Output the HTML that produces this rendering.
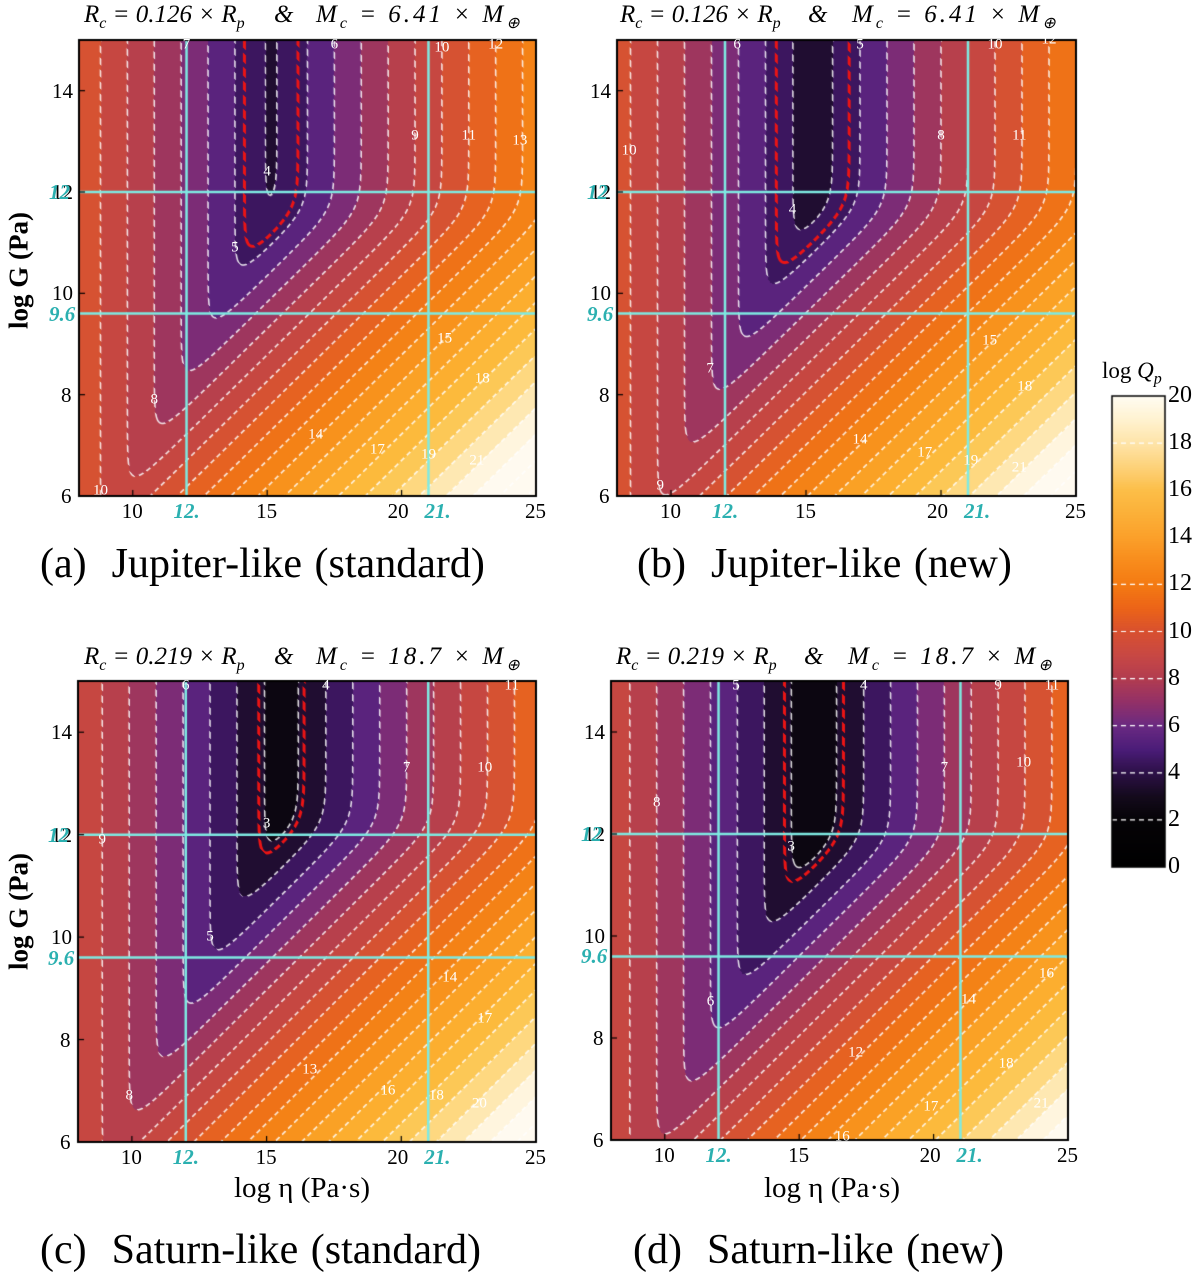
<!DOCTYPE html>
<html><head><meta charset="utf-8">
<style>
html,body{margin:0;padding:0;background:#fff;}
body{width:1200px;height:1275px;position:relative;overflow:hidden;font-family:"Liberation Serif",serif;}
.abs{position:absolute;}
canvas{position:absolute;left:0;top:0;}
.ttl{position:absolute;font-style:italic;font-size:25px;white-space:pre;color:#000;}
.ttl sub{font-size:16px;}
.m{letter-spacing:3px;}
.cap{position:absolute;font-size:42px;white-space:pre;color:#000;word-spacing:2px;}
.tick{position:absolute;font-size:21px;color:#000;}
.cy{position:absolute;font-size:21px;color:#2bb0b0;font-style:italic;font-weight:bold;}
.ylab{position:absolute;font-size:27px;font-weight:bold;transform:rotate(-90deg);transform-origin:center;white-space:nowrap;}
.xlab{position:absolute;font-size:29px;white-space:nowrap;}
.cl{position:absolute;font-size:15px;color:#fff;transform:translate(-50%,-50%);}
</style></head>
<body>
<canvas id="cv" width="1200" height="1275"></canvas>
<div id="overlay"></div>

<div>
<div class="ttl" style="left:84px;top:1px">R<sub>c</sub> = 0.126 × R<sub>p</sub></div>
<div class="ttl" style="left:274px;top:1px">&amp;</div>
<div class="ttl m" style="left:316px;top:1px">M<sub>c</sub> = 6.41 × M<sub>⊕</sub></div>
</div>
<div>
<div class="ttl" style="left:620px;top:1px">R<sub>c</sub> = 0.126 × R<sub>p</sub></div>
<div class="ttl" style="left:808px;top:1px">&amp;</div>
<div class="ttl m" style="left:852px;top:1px">M<sub>c</sub> = 6.41 × M<sub>⊕</sub></div>
</div>
<div>
<div class="ttl" style="left:84px;top:643px">R<sub>c</sub> = 0.219 × R<sub>p</sub></div>
<div class="ttl" style="left:274px;top:643px">&amp;</div>
<div class="ttl m" style="left:316px;top:643px">M<sub>c</sub> = 18.7 × M<sub>⊕</sub></div>
</div>
<div>
<div class="ttl" style="left:616px;top:643px">R<sub>c</sub> = 0.219 × R<sub>p</sub></div>
<div class="ttl" style="left:804px;top:643px">&amp;</div>
<div class="ttl m" style="left:848px;top:643px">M<sub>c</sub> = 18.7 × M<sub>⊕</sub></div>
</div>

<div class="cap" style="left:40px;top:540px">(a)  Jupiter-like (standard)</div>
<div class="cap" style="left:637px;top:540px">(b)  Jupiter-like (new)</div>
<div class="cap" style="left:40px;top:1226px">(c)  Saturn-like (standard)</div>
<div class="cap" style="left:633px;top:1226px">(d)  Saturn-like (new)</div>

<div class="ylab" style="left:-46px;top:255px;width:130px;text-align:center">log G (Pa)</div>
<div class="ylab" style="left:-46px;top:896px;width:130px;text-align:center">log G (Pa)</div>
<div class="xlab" style="left:234px;top:1172px">log η (Pa·s)</div>
<div class="xlab" style="left:764px;top:1172px">log η (Pa·s)</div>

<div class="abs" style="left:1102px;top:358px;font-size:23px">log <i>Q<sub style="font-size:16px">p</sub></i></div>

<script>
// ---- data ----
const cmapLevels = [0,2,3,4,5,6,7,8,9,10,11,12,13,14,15,16,17,18,19,20,21,22];
const cmapColors = ['#000000','#050306','#140a1c','#2c1046','#4b1c78','#6a2a82','#8e2f6a','#ae3c52','#c04446','#cc4a3c','#e05a28','#ec6a1a','#f27a14','#f68a18','#f99a20','#fba82a','#fcb434','#fcc044','#fdd068','#fee098','#fff0cc','#fffaf0'];
const cbLevels = [0,2,3,4,5,6,7,8,9,10,11,12,13,14,15,16,17,18,19,20];
const cbColors = ['#000000','#050306','#140a1c','#2c1046','#4b1c78','#6a2a82','#923068','#b23c50','#c84844','#d85030','#ec6418','#f47a12','#f88c1c','#fba02a','#fbb038','#fcbe48','#fdd27a','#fee4a8','#fff2d0','#fffcf2'];
const panelIds = ['a','b','c','d'];
const leftIntercept = [18.8, 18.5, 17.9, 17.7];
const rightOffset = [11.5, 12.0, 13.2, 13.4];
const kneeG = [11.65, 11.7, 12.2, 11.9];
const redLevel = [4.65, 4.6, 3.2, 3.25];
const xTicks = [10, 15, 20, 25];
const yTicks = [6, 8, 10, 12, 14];
const cyanEta = [12, 21];
const cyanG = [12, 9.6];
const cbTicks = [0,2,4,6,8,10,12,14,16,18,20];
const labelsA = [["4",15,12.4],["5",13.8,10.9],["8",10.8,7.9],["10",8.8,6.1],["9",20.5,13.1],["11",22.5,13.1],["13",24.4,13],["10",21.5,14.85],["12",23.5,14.9],["6",17.5,14.9],["7",12,14.9],["15",21.6,9.1],["18",23,8.3],["14",16.8,7.2],["17",19.1,6.9],["19",21,6.8],["21",22.8,6.7]];
const labelsB = [["4",14.5,11.65],["10",8.45,12.8],["7",11.45,8.5],["9",9.6,6.2],["6",12.45,14.9],["5",17,14.9],["8",20,13.1],["10",22,14.9],["11",22.9,13.1],["12",24,15],["15",21.8,9.05],["18",23.1,8.15],["14",17,7.1],["17",19.4,6.85],["19",21.1,6.7],["21",22.9,6.55]];
const labelsC = [["3",15,12.2],["5",12.9,10],["8",9.9,6.9],["9",8.9,11.9],["6",12,14.9],["4",17.2,14.9],["7",20.2,13.3],["10",23.1,13.3],["11",24.1,14.9],["14",21.8,9.2],["17",23.1,8.4],["13",16.6,7.4],["16",19.5,7.0],["18",21.3,6.9],["20",22.9,6.75]];
const labelsD = [["3",14.7,11.75],["8",9.7,12.6],["6",11.7,8.7],["5",12.65,14.9],["4",17.4,14.9],["9",22.4,14.9],["11",24.4,14.9],["7",20.4,13.3],["10",23.35,13.4],["16",24.2,9.25],["14",21.3,8.75],["12",17.1,7.7],["17",19.9,6.65],["18",22.7,7.5],["21",24,6.7],["16",16.6,6.05]];
const panelLabels = [labelsA, labelsB, labelsC, labelsD];

// ---- layout ----
const boxes = [
  {x0:79,x1:536,y0:40,y1:496},
  {x0:617,x1:1076,y0:40,y1:496},
  {x0:78,x1:536,y0:681,y1:1142},
  {x0:611,x1:1068,y0:681,y1:1140}
];
const ETA0=8, ETA1=25, G0=6, G1=15;
function sx(b,eta){return b.x0+(eta-ETA0)/(ETA1-ETA0)*(b.x1-b.x0);}
function sy(b,g){return b.y1-(g-G0)/(G1-G0)*(b.y1-b.y0);}
function hex(c){return [parseInt(c.substr(1,2),16),parseInt(c.substr(3,2),16),parseInt(c.substr(5,2),16)];}
const cmapRGB = cmapColors.map(hex);
const cbRGB = cbColors.map(hex);
function interp(levels,rgb,v){
  if(v<=levels[0]) return rgb[0];
  for(let i=1;i<levels.length;i++){
    if(v<=levels[i]){const t=(v-levels[i-1])/(levels[i]-levels[i-1]);const a=rgb[i-1],b=rgb[i];return [a[0]+(b[0]-a[0])*t,a[1]+(b[1]-a[1])*t,a[2]+(b[2]-a[2])*t];}
  }
  return rgb[rgb.length-1];
}
function cmap(v){return interp(cmapLevels,cmapRGB,v);}
function field(p,eta,g){
  const L=leftIntercept[p]-eta;
  const w=0.5;
  const sp=w*Math.log10(1+Math.pow(10,(kneeG[p]-g)/w));
  const R=eta-rightOffset[p]+1.92*sp;
  const m=Math.max(L,R);
  return m+Math.log10(Math.pow(10,L-m)+Math.pow(10,R-m));
}

const cv=document.getElementById('cv');
const ctx=cv.getContext('2d');
const ov=document.getElementById('overlay');

panelIds.forEach((id,p)=>{
  const b=boxes[p];
  const W=b.x1-b.x0, H=b.y1-b.y0;
  const img=ctx.createImageData(W,H);
  const dEta=(ETA1-ETA0)/W, dG=(G1-G0)/H;
  for(let j=0;j<H;j++){
    const g=G1-(j+0.5)*dG;
    for(let i=0;i<W;i++){
      const eta=ETA0+(i+0.5)*dEta;
      const q=field(p,eta,g);
      const qx=(field(p,eta+dEta,g)-q), qy=(field(p,eta,g+dG)-q);
      const gr=Math.sqrt(qx*qx+qy*qy)+1e-9;
      let c=cmap(Math.floor(q)+0.5);
      let r=c[0],gg=c[1],bb=c[2];
      const px=b.x0+i, py=b.y0+j;
      const dist=Math.abs(q-Math.round(q))/gr;
      const ph=((px-py)%12+12)%12;
      if(dist<1.3 && ph<7){
        const a=0.85*Math.min(1,1.3-dist);
        r=r+(255-r)*a; gg=gg+(255-gg)*a; bb=bb+(255-bb)*a;
      }
      const dr=Math.abs(q-redLevel[p])/gr;
      const ph2=((px-py)%14+14)%14;
      if(dr<2.0 && ph2<9){
        const a=Math.min(1,2.0-dr);
        r=r+(235-r)*a; gg=gg+(20-gg)*a; bb=bb+(20-bb)*a;
      }
      const k=(j*W+i)*4;
      img.data[k]=r;img.data[k+1]=gg;img.data[k+2]=bb;img.data[k+3]=255;
    }
  }
  ctx.putImageData(img,b.x0,b.y0);
  ctx.strokeStyle='#7eeae2';ctx.lineWidth=2.5;
  cyanEta.forEach(e=>{ctx.beginPath();ctx.moveTo(sx(b,e),b.y0);ctx.lineTo(sx(b,e),b.y1);ctx.stroke();});
  cyanG.forEach(g=>{ctx.beginPath();ctx.moveTo(b.x0,sy(b,g));ctx.lineTo(b.x1,sy(b,g));ctx.stroke();});
  ctx.strokeStyle='#000';ctx.lineWidth=2;
  ctx.strokeRect(b.x0,b.y0,W,H);
  ctx.lineWidth=1.2;
  xTicks.forEach(t=>{const x=sx(b,t);ctx.beginPath();ctx.moveTo(x,b.y1);ctx.lineTo(x,b.y1-6);ctx.stroke();
    const d=document.createElement('div');d.className='tick';d.textContent=String(t);
    d.style.left=(x-(t===20?14:11))+'px';d.style.top=(b.y1+3)+'px';
    
    
    ov.appendChild(d);});
  yTicks.forEach(t=>{const y=sy(b,t);ctx.beginPath();ctx.moveTo(b.x0,y);ctx.lineTo(b.x0+6,y);ctx.stroke();
    const d=document.createElement('div');d.className='tick';d.textContent=String(t);
    d.style.left=(b.x0-(t<10?18:27))+'px';d.style.top=(y-12)+'px';
    
    
    ov.appendChild(d);});
  cyanEta.forEach(e=>{const d=document.createElement('div');d.className='cy';d.textContent=e+'.';
    d.style.left=(sx(b,e)-(e===21?4:13))+'px';d.style.top=(b.y1+3)+'px';
    
    
    ov.appendChild(d);});
  cyanG.forEach(g=>{const d=document.createElement('div');d.className='cy';d.textContent=String(g);
    d.style.left=(b.x0-30)+'px';d.style.top=(sy(b,g)-12)+'px';
    
    
    ov.appendChild(d);});
  panelLabels[p].forEach(l=>{const d=document.createElement('div');d.className='cl';d.textContent=l[0];
    d.style.left=sx(b,l[1])+'px';d.style.top=sy(b,l[2])+'px';
    
    
    ov.appendChild(d);});
});

// colorbar
const cb={x0:1112,x1:1165,y0:396,y1:867};
for(let y=cb.y0;y<cb.y1;y++){
  const v=(cb.y1-y)/(cb.y1-cb.y0)*20;
  const c=interp(cbLevels,cbRGB,v);
  ctx.fillStyle='rgb('+c.map(Math.round).join(',')+')';
  ctx.fillRect(cb.x0,y,cb.x1-cb.x0,1);
}
ctx.strokeStyle='#fff';ctx.lineWidth=1.2;ctx.setLineDash([5,4]);
cbTicks.forEach(t=>{if(t>0&&t<20&&(t<=12||t===18)){const y=cb.y1-t/20*(cb.y1-cb.y0);ctx.beginPath();ctx.moveTo(cb.x0,y);ctx.lineTo(cb.x1,y);ctx.stroke();}});
ctx.setLineDash([]);
ctx.strokeStyle='#000';ctx.lineWidth=1.5;ctx.strokeRect(cb.x0,cb.y0,cb.x1-cb.x0,cb.y1-cb.y0);
cbTicks.forEach(t=>{const y=cb.y1-t/20*(cb.y1-cb.y0);
  const d=document.createElement('div');d.className='tick';d.style.fontSize='24px';d.textContent=String(t);
  d.style.left=(cb.x1+3)+'px';d.style.top=(y-14)+'px';
  
  
  ov.appendChild(d);});
</script>
</body></html>
